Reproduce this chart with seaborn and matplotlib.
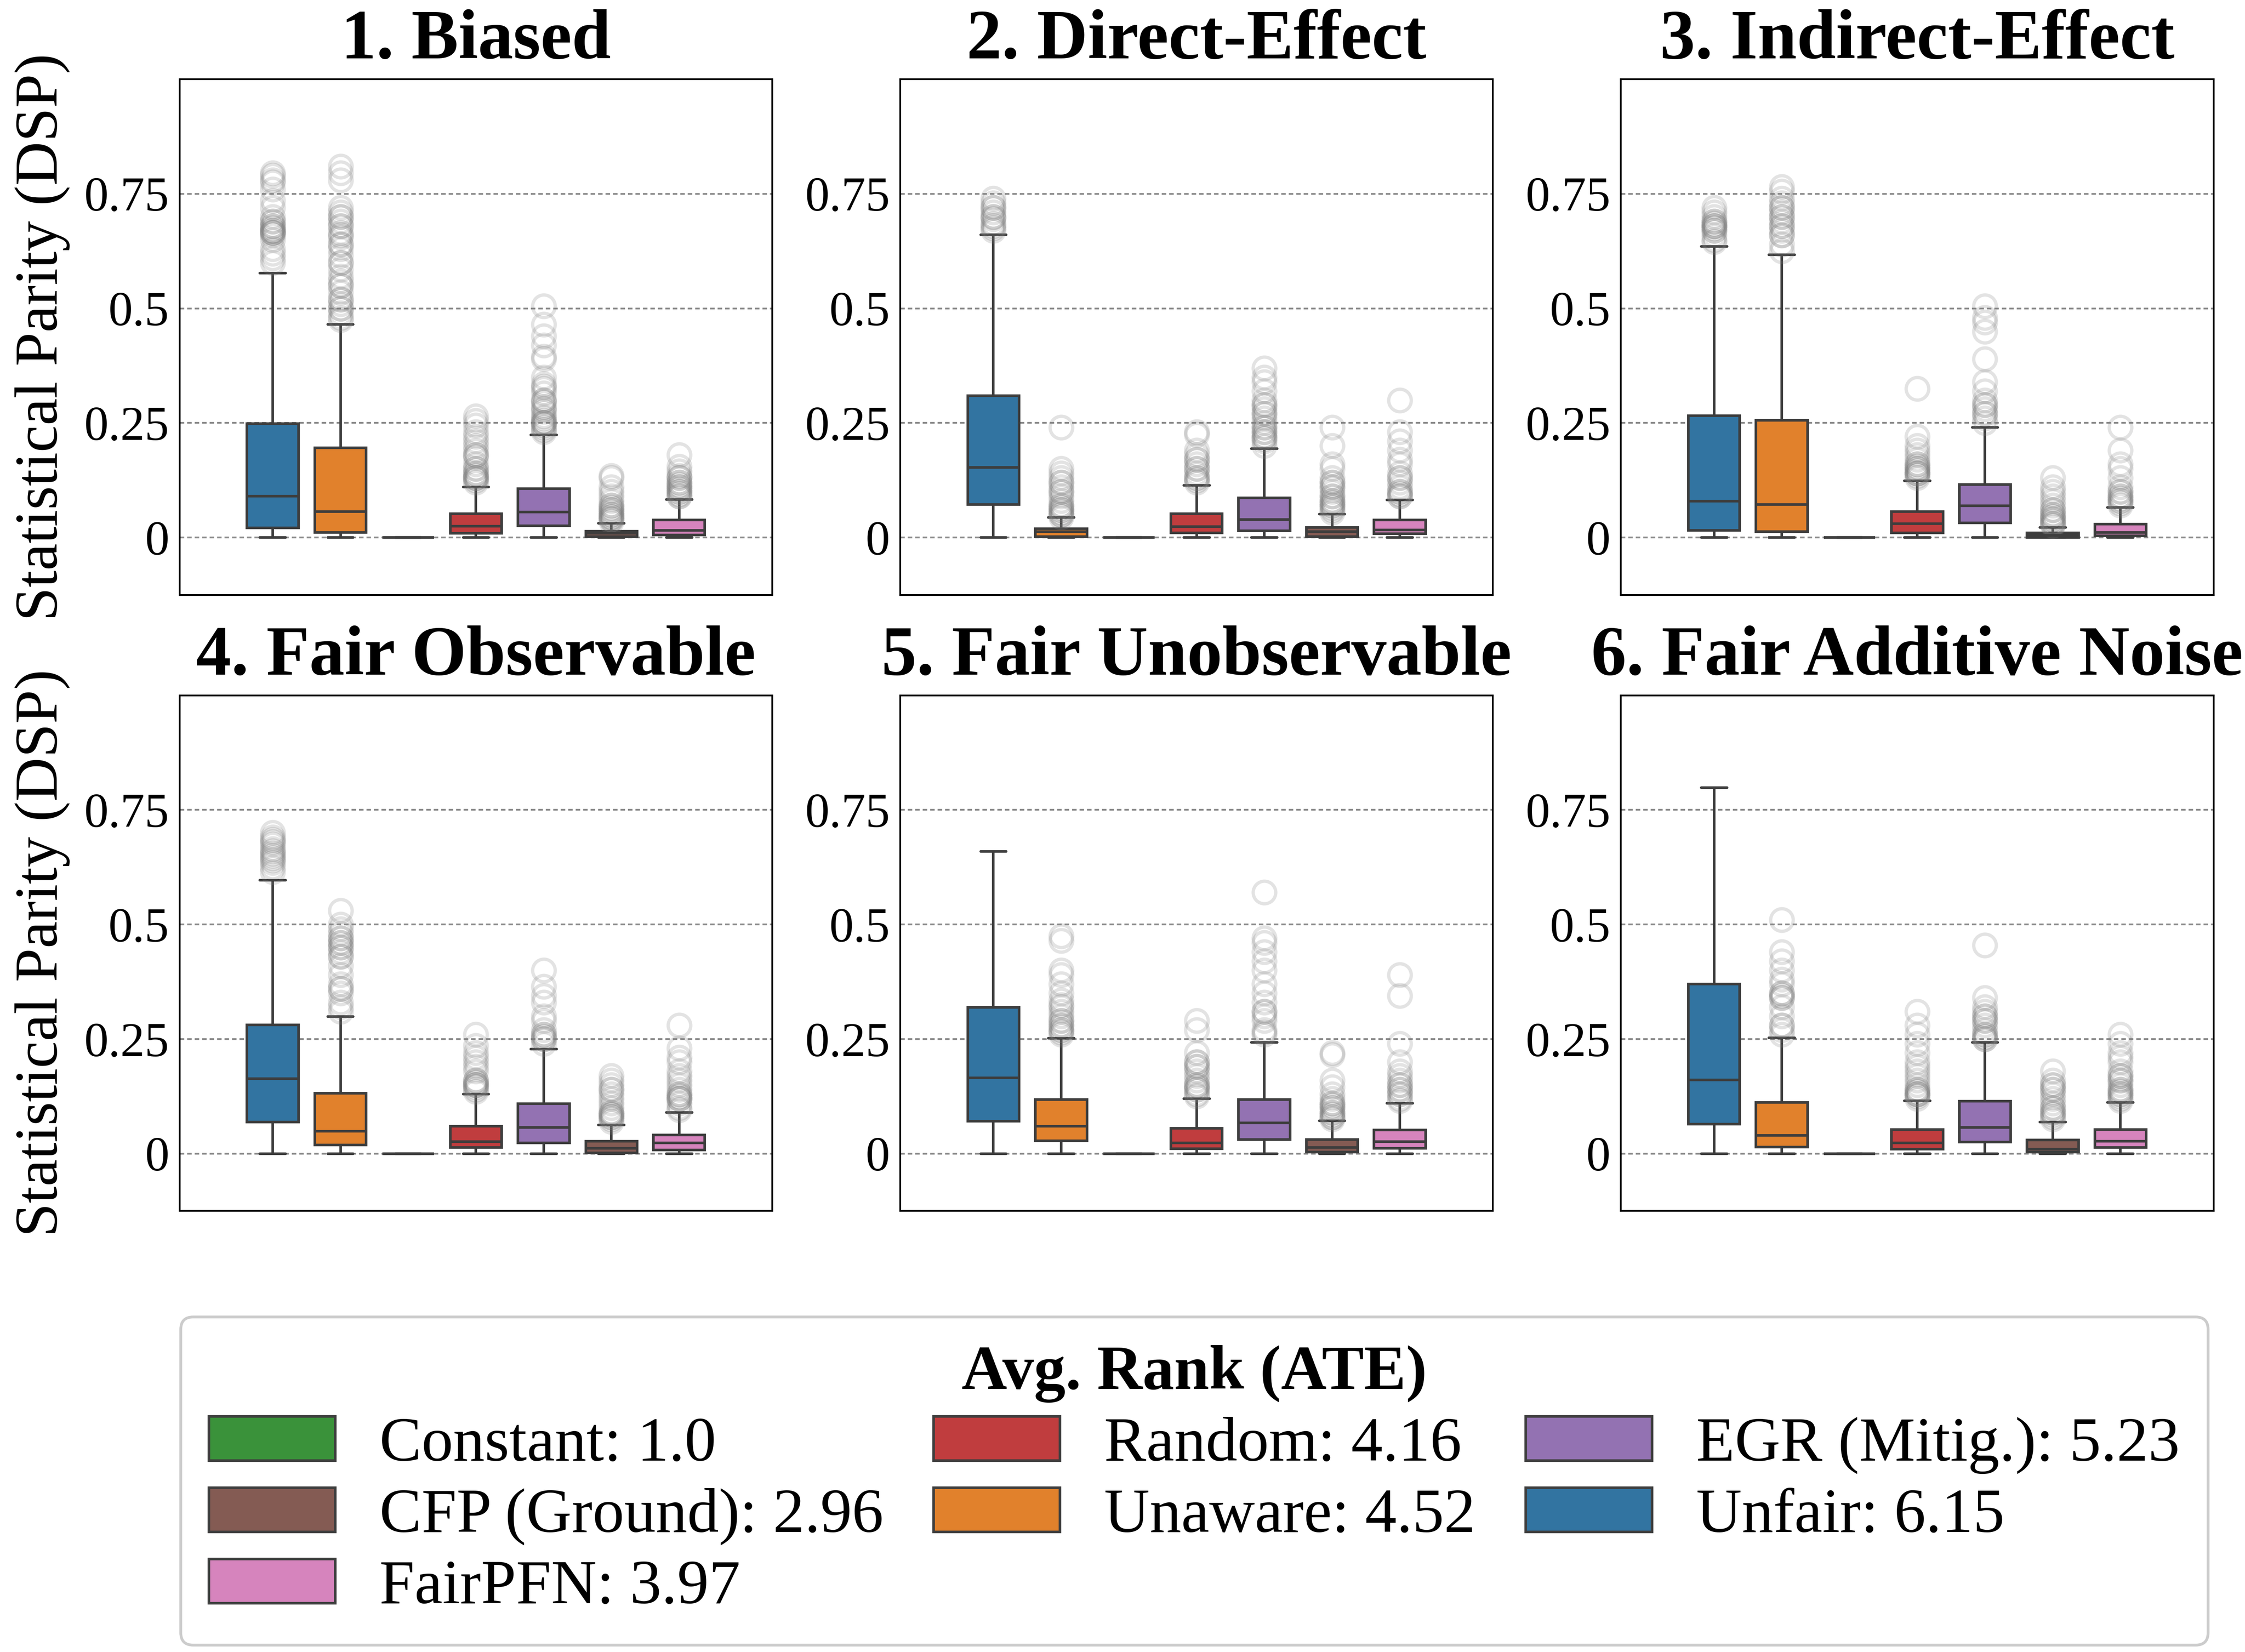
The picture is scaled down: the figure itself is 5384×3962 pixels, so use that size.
import pandas as pd
import matplotlib
matplotlib.use('Agg')
import matplotlib.pyplot as plt
from matplotlib.patches import Patch
import seaborn as sns

methods = ['Unfair', 'Unaware', 'Constant', 'Random', 'EGR (Mitig.)', 'CFP (Ground)', 'FairPFN']
avg_rank = [6.15, 4.52, 1.0, 4.16, 5.23, 2.96, 3.97]
titles = ['1. Biased', '2. Direct-Effect', '3. Indirect-Effect',
          '4. Fair Observable', '5. Fair Unobservable', '6. Fair Additive Noise']

# box statistics per panel, one value per method (same order as `methods`)
q1 = [
    [0.021, 0.011, 0.0, 0.009, 0.026, 0.002, 0.006],
    [0.072, 0.002, 0.0, 0.010, 0.015, 0.002, 0.008],
    [0.016, 0.013, 0.0, 0.010, 0.032, 0.000, 0.004],
    [0.069, 0.019, 0.0, 0.013, 0.023, 0.002, 0.008],
    [0.071, 0.028, 0.0, 0.011, 0.031, 0.003, 0.012],
    [0.064, 0.014, 0.0, 0.010, 0.025, 0.003, 0.013],
]
median = [
    [0.090, 0.057, 0.0, 0.025, 0.056, 0.009, 0.016],
    [0.153, 0.013, 0.0, 0.024, 0.039, 0.013, 0.017],
    [0.079, 0.072, 0.0, 0.030, 0.069, 0.005, 0.011],
    [0.164, 0.049, 0.0, 0.026, 0.057, 0.012, 0.023],
    [0.165, 0.060, 0.0, 0.023, 0.067, 0.013, 0.026],
    [0.161, 0.040, 0.0, 0.023, 0.057, 0.010, 0.027],
]
q3 = [
    [0.249, 0.196, 0.0, 0.052, 0.107, 0.014, 0.038],
    [0.310, 0.019, 0.0, 0.052, 0.087, 0.022, 0.038],
    [0.266, 0.256, 0.0, 0.057, 0.116, 0.010, 0.029],
    [0.281, 0.132, 0.0, 0.060, 0.109, 0.027, 0.041],
    [0.319, 0.118, 0.0, 0.055, 0.118, 0.031, 0.052],
    [0.370, 0.112, 0.0, 0.053, 0.114, 0.030, 0.053],
]
whisker_hi = [
    [0.577, 0.465, 0.0, 0.110, 0.224, 0.031, 0.083],
    [0.661, 0.044, 0.0, 0.114, 0.194, 0.051, 0.082],
    [0.635, 0.617, 0.0, 0.124, 0.240, 0.022, 0.066],
    [0.597, 0.299, 0.0, 0.130, 0.228, 0.063, 0.090],
    [0.659, 0.252, 0.0, 0.120, 0.243, 0.072, 0.110],
    [0.799, 0.253, 0.0, 0.115, 0.243, 0.069, 0.112],
]
outliers = [
    [[0.60, 0.61, 0.62, 0.63, 0.65, 0.66, 0.665, 0.67, 0.675, 0.68, 0.69, 0.70, 0.72, 0.735, 0.76, 0.775, 0.78, 0.79, 0.795],
     [0.475, 0.48, 0.49, 0.50, 0.51, 0.52, 0.535, 0.55, 0.56, 0.57, 0.585, 0.60, 0.615, 0.63, 0.64, 0.655, 0.665, 0.68, 0.69, 0.70, 0.71, 0.72, 0.78, 0.795, 0.81],
     [],
     [0.12, 0.125, 0.13, 0.135, 0.14, 0.15, 0.16, 0.175, 0.18, 0.19, 0.20, 0.21, 0.22, 0.23, 0.245, 0.255, 0.265],
     [0.23, 0.235, 0.24, 0.245, 0.25, 0.255, 0.265, 0.275, 0.285, 0.295, 0.30, 0.315, 0.325, 0.335, 0.35, 0.39, 0.395, 0.42, 0.44, 0.465, 0.505],
     [0.035, 0.04, 0.045, 0.05, 0.055, 0.06, 0.065, 0.07, 0.08, 0.09, 0.10, 0.11, 0.13, 0.135],
     [0.09, 0.095, 0.10, 0.105, 0.11, 0.115, 0.12, 0.13, 0.135, 0.145, 0.155, 0.18]],
    [[0.67, 0.675, 0.685, 0.695, 0.70, 0.71, 0.72, 0.73, 0.74],
     [0.045, 0.05, 0.055, 0.06, 0.065, 0.07, 0.08, 0.09, 0.10, 0.11, 0.12, 0.13, 0.14, 0.15, 0.24],
     [],
     [0.12, 0.125, 0.13, 0.14, 0.15, 0.16, 0.17, 0.18, 0.19, 0.225, 0.23],
     [0.20, 0.21, 0.215, 0.22, 0.23, 0.24, 0.25, 0.26, 0.27, 0.28, 0.29, 0.30, 0.32, 0.34, 0.35, 0.37],
     [0.055, 0.06, 0.065, 0.07, 0.075, 0.08, 0.09, 0.10, 0.11, 0.12, 0.13, 0.15, 0.16, 0.20, 0.24],
     [0.09, 0.095, 0.10, 0.11, 0.12, 0.13, 0.14, 0.16, 0.17, 0.19, 0.21, 0.23, 0.30]],
    [[0.645, 0.65, 0.66, 0.67, 0.675, 0.68, 0.685, 0.69, 0.70, 0.71, 0.72],
     [0.625, 0.64, 0.66, 0.67, 0.68, 0.69, 0.70, 0.71, 0.72, 0.73, 0.74, 0.755, 0.765],
     [],
     [0.13, 0.135, 0.14, 0.145, 0.15, 0.155, 0.16, 0.17, 0.18, 0.19, 0.20, 0.22, 0.325],
     [0.25, 0.26, 0.27, 0.28, 0.29, 0.30, 0.32, 0.34, 0.39, 0.45, 0.47, 0.48, 0.505],
     [0.027, 0.03, 0.035, 0.04, 0.045, 0.05, 0.06, 0.07, 0.08, 0.09, 0.10, 0.11, 0.13],
     [0.07, 0.075, 0.08, 0.085, 0.09, 0.10, 0.11, 0.13, 0.15, 0.16, 0.19, 0.24]],
    [[0.615, 0.625, 0.635, 0.645, 0.655, 0.665, 0.675, 0.685, 0.69, 0.70],
     [0.31, 0.32, 0.33, 0.35, 0.36, 0.37, 0.39, 0.41, 0.43, 0.44, 0.45, 0.46, 0.47, 0.48, 0.49, 0.50, 0.53],
     [],
     [0.135, 0.14, 0.145, 0.15, 0.155, 0.16, 0.18, 0.19, 0.20, 0.21, 0.22, 0.235, 0.26],
     [0.24, 0.25, 0.255, 0.26, 0.27, 0.29, 0.30, 0.33, 0.345, 0.365, 0.40],
     [0.07, 0.075, 0.08, 0.085, 0.09, 0.10, 0.11, 0.12, 0.13, 0.14, 0.15, 0.16, 0.17],
     [0.095, 0.10, 0.11, 0.12, 0.125, 0.13, 0.14, 0.15, 0.16, 0.17, 0.18, 0.20, 0.21, 0.23, 0.28]],
    [[],
     [0.26, 0.265, 0.27, 0.28, 0.29, 0.30, 0.31, 0.325, 0.335, 0.35, 0.37, 0.39, 0.40, 0.465, 0.475],
     [],
     [0.125, 0.13, 0.14, 0.145, 0.15, 0.16, 0.17, 0.18, 0.19, 0.20, 0.22, 0.27, 0.29],
     [0.26, 0.265, 0.29, 0.30, 0.31, 0.33, 0.35, 0.37, 0.40, 0.42, 0.44, 0.46, 0.47, 0.57],
     [0.075, 0.08, 0.085, 0.09, 0.10, 0.105, 0.11, 0.12, 0.13, 0.145, 0.16, 0.215, 0.22],
     [0.115, 0.12, 0.13, 0.14, 0.15, 0.16, 0.17, 0.18, 0.20, 0.24, 0.345, 0.39]],
    [[],
     [0.26, 0.27, 0.28, 0.30, 0.32, 0.34, 0.345, 0.35, 0.37, 0.38, 0.40, 0.42, 0.44, 0.51],
     [],
     [0.12, 0.125, 0.13, 0.135, 0.14, 0.15, 0.16, 0.17, 0.18, 0.19, 0.20, 0.22, 0.24, 0.26, 0.28, 0.31],
     [0.25, 0.255, 0.26, 0.27, 0.28, 0.29, 0.30, 0.31, 0.32, 0.34, 0.455],
     [0.075, 0.08, 0.085, 0.09, 0.10, 0.11, 0.12, 0.13, 0.14, 0.15, 0.16, 0.18],
     [0.115, 0.12, 0.125, 0.13, 0.135, 0.14, 0.15, 0.16, 0.17, 0.18, 0.20, 0.21, 0.22, 0.24, 0.26]],
]
# extra repeated outliers where the reference shows dark, overlapping clusters
dense_outliers = [
    [[0.665, 0.67, 0.68, 0.69, 0.665], [0.55, 0.60, 0.64, 0.66, 0.68, 0.70, 0.52, 0.50], [],
     [0.13, 0.14, 0.15, 0.18, 0.13], [0.25, 0.26, 0.28, 0.30, 0.33, 0.25], [0.04, 0.05, 0.06, 0.07, 0.045], [0.09, 0.10, 0.11, 0.12, 0.13]],
    [[0.68, 0.70, 0.72], [0.05, 0.06, 0.07, 0.10, 0.12], [], [0.13, 0.15, 0.17], [0.22, 0.24, 0.27, 0.29, 0.23],
     [0.07, 0.09, 0.11, 0.12, 0.08], [0.09, 0.10, 0.13]],
    [[0.67, 0.68, 0.69, 0.68], [0.66, 0.68, 0.70, 0.72], [], [0.14, 0.15, 0.16, 0.14], [0.27, 0.29], [0.03, 0.04, 0.05, 0.06], [0.08, 0.09, 0.10]],
    [[0.64, 0.66, 0.68, 0.65], [0.45, 0.46, 0.43, 0.36, 0.47], [], [0.15, 0.16, 0.15], [0.25, 0.26], [0.08, 0.085, 0.09, 0.14], [0.12, 0.13, 0.12]],
    [[], [0.27, 0.29, 0.32, 0.28], [], [0.14, 0.15, 0.19, 0.20], [0.31, 0.27], [0.08, 0.09, 0.10, 0.11], [0.13, 0.15, 0.14]],
    [[], [0.35, 0.34, 0.28], [], [0.13, 0.14, 0.13], [0.26, 0.29, 0.30, 0.25], [0.09, 0.10, 0.14, 0.15], [0.13, 0.14, 0.16, 0.17]],
]


def box_sample(lo_q, med, hi_q, whi, outs, m=60):
    # 4m+1 values whose quartiles land exactly on lo_q / med / hi_q
    upper = [whi] + list(outs)
    upper += [hi_q] * (m - len(upper))
    return [0.0] + [lo_q] * m + [med] * m + [hi_q] * m + upper


sns.set_style('white')
plt.rcParams['font.family'] = ['Liberation Serif', 'DejaVu Serif']
plt.rcParams['text.color'] = 'black'
plt.rcParams['axes.labelcolor'] = 'black'
plt.rcParams['ytick.color'] = 'black'

palette = sns.color_palette('tab10', 7)
legend_colors = [sns.desaturate(c, 0.75) for c in palette]

fig, axes = plt.subplots(2, 3, figsize=(5384 / 300, 3962 / 300), dpi=300)
fig.subplots_adjust(left=0.080, right=0.986, top=0.952, bottom=0.267, wspace=0.216, hspace=0.195)

for i, ax in enumerate(axes.flat):
    rows = []
    for j, name in enumerate(methods):
        outs = outliers[i][j] + dense_outliers[i][j]
        vals = box_sample(q1[i][j], median[i][j], q3[i][j], whisker_hi[i][j], outs)
        rows += [(titles[i], name, v) for v in vals]
    df = pd.DataFrame(rows, columns=['scm', 'method', 'dsp'])

    sns.boxplot(data=df, x='scm', y='dsp', hue='method', hue_order=methods,
                palette=palette, gap=0.24, linewidth=1.5, legend=False, ax=ax,
                flierprops=dict(marker='o', markerfacecolor='none', markeredgecolor='gray',
                                markersize=13, markeredgewidth=1.9, alpha=0.22))

    ax.set_ylim(-0.125, 1.0)
    ax.set_yticks([0, 0.25, 0.5, 0.75])
    ax.set_yticklabels(['0', '0.25', '0.5', '0.75'])
    ax.tick_params(axis='y', labelsize=28, length=0, pad=6, labelcolor='black')
    ax.set_xticks([])
    ax.set_xlabel('')
    ax.yaxis.grid(True, linestyle=(0, (2.6, 1.7)), color='#8a8a8a', linewidth=1.0)
    ax.set_axisbelow(True)
    for s in ax.spines.values():
        s.set_color('black')
        s.set_linewidth(1.0)
    ax.set_title(titles[i], fontsize=40.5, fontweight='bold', pad=12, color='black')
    if i % 3 == 0:
        ax.set_ylabel('Statistical Parity (DSP)', fontsize=35, labelpad=8, color='black')
    else:
        ax.set_ylabel('')

# legend sorted by average rank
order = sorted(range(len(methods)), key=lambda k: avg_rank[k])
handles = [Patch(facecolor=legend_colors[k], edgecolor='#3f3f3f', linewidth=1.5) for k in order]
labels = [f'{methods[k]}: {avg_rank[k]}' for k in order]
leg = fig.legend(handles, labels, ncol=3, loc='upper center', bbox_to_anchor=(0.532, 0.203),
                 borderaxespad=0, fontsize=36.3, title='Avg. Rank (ATE)',
                 title_fontproperties={'weight': 'bold', 'size': 36.3},
                 frameon=True, fancybox=True, edgecolor='#cccccc', framealpha=1,
                 columnspacing=0.8, handletextpad=0.7, labelspacing=0.22, borderpad=0.45)
leg.get_frame().set_linewidth(1.6)
for t in leg.get_texts():
    t.set_color('black')

fig.savefig('out.png', dpi=300)
